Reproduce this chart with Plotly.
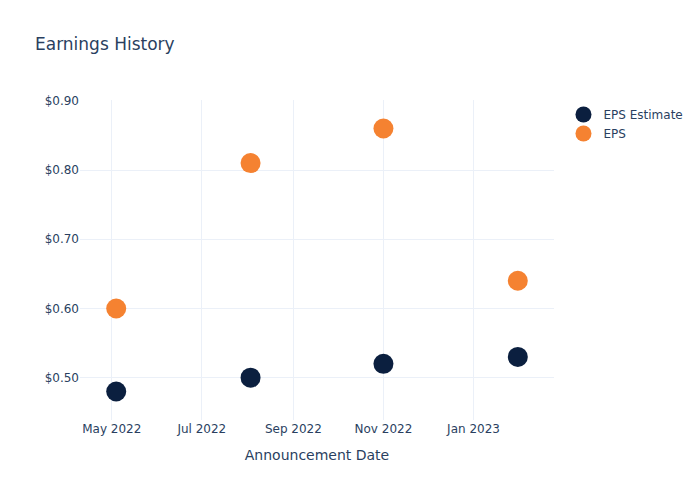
import plotly.graph_objects as go

dates = ["2022-05-04", "2022-08-03", "2022-11-01", "2023-01-31"]
eps_estimate = [0.48, 0.50, 0.52, 0.53]
eps_actual = [0.60, 0.81, 0.86, 0.64]

fig = go.Figure()
fig.add_trace(go.Scatter(x=dates, y=eps_estimate, mode="markers", name="EPS Estimate",
                         marker=dict(color="#0b1f3f", size=20)))
fig.add_trace(go.Scatter(x=dates, y=eps_actual, mode="markers", name="EPS",
                         marker=dict(color="#f58231", size=20)))
fig.update_layout(
    template="plotly_white",
    width=700, height=500,
    font=dict(family="DejaVu Sans"),
    title=dict(text="Earnings History"),
    xaxis=dict(title="Announcement Date"),
    yaxis=dict(tickformat="$.2f"),
)
fig.write_html("out.html")
